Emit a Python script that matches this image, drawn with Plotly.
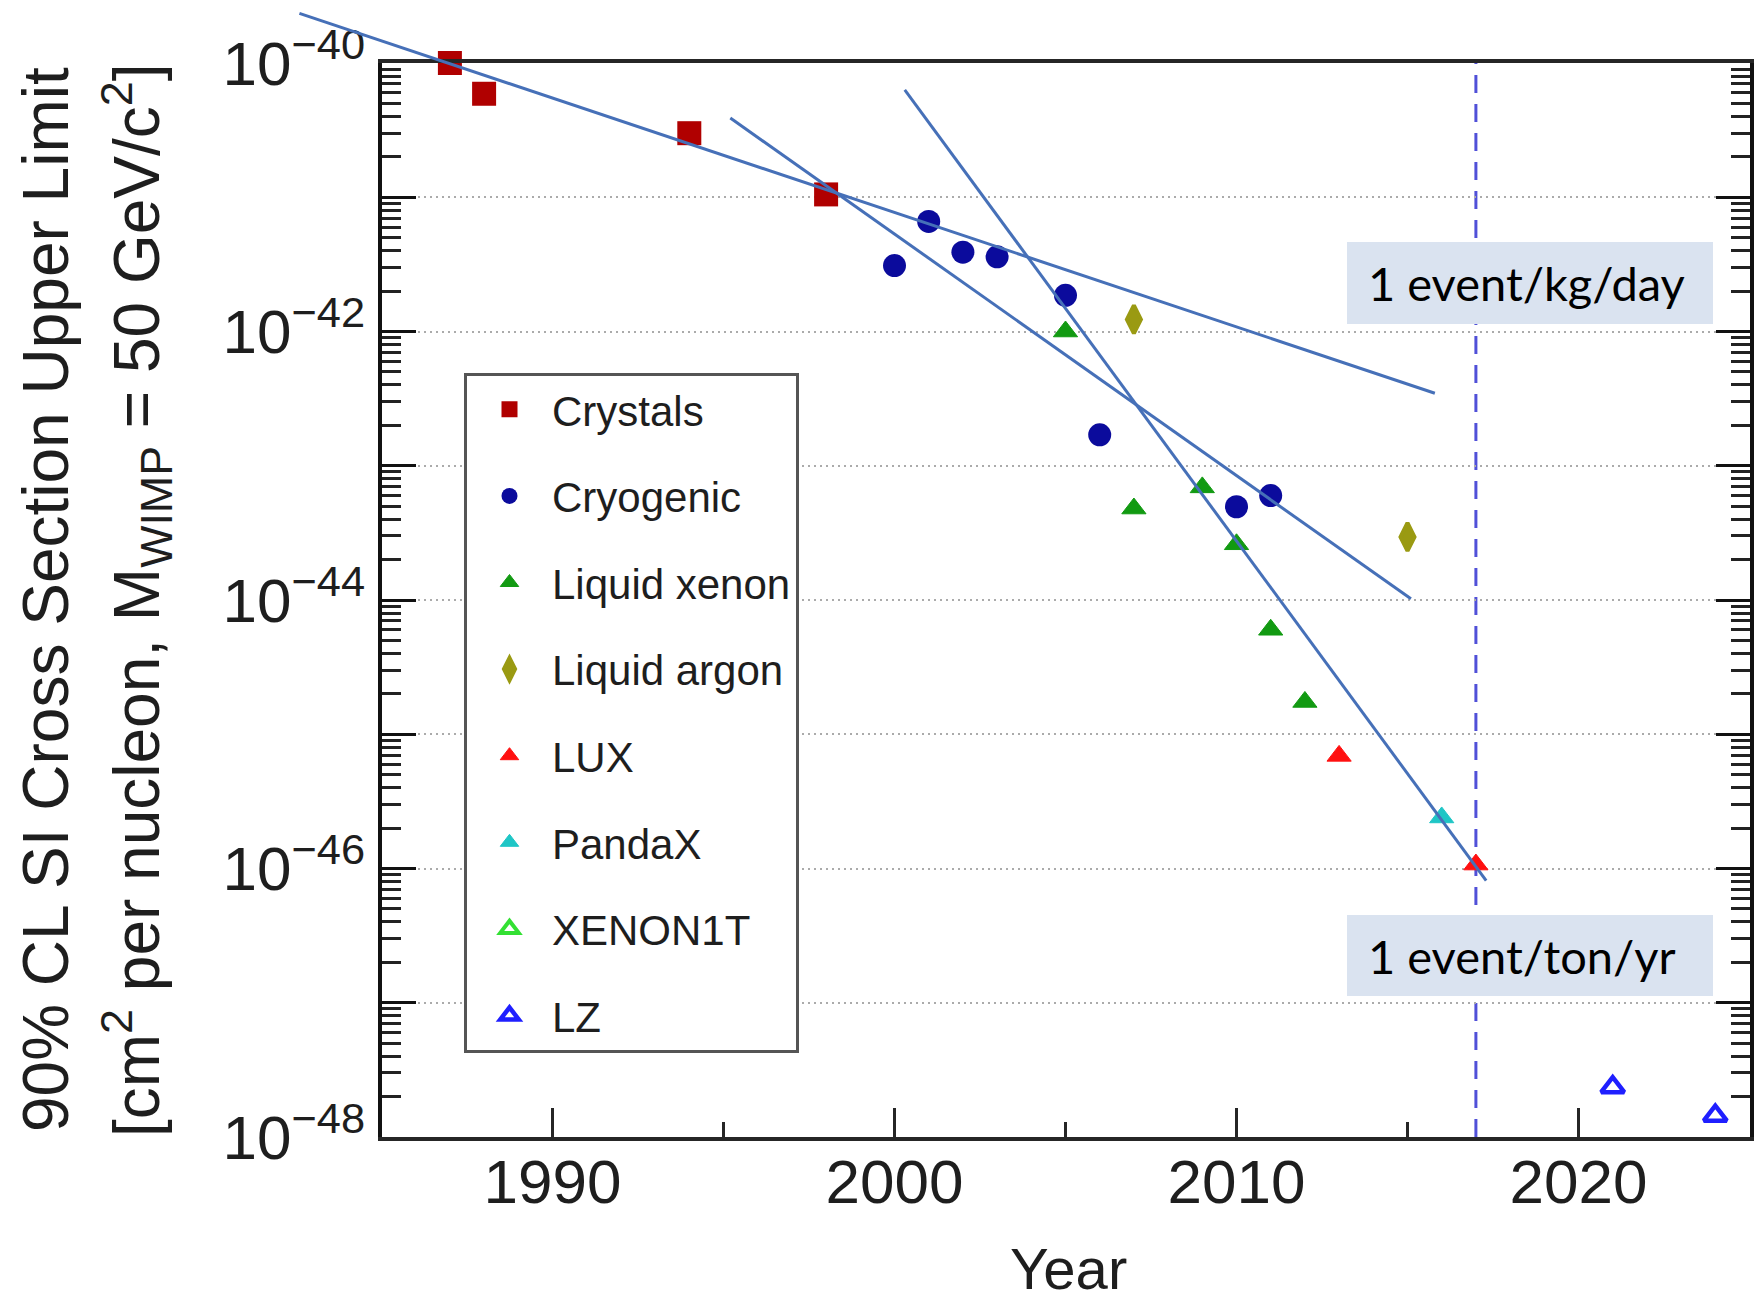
import plotly.graph_objects as go

# ---------------- data ----------------
crystals_year = [1987, 1988, 1994, 1998]
crystals_xs = [1.0e-40, 5.9e-41, 3.0e-41, 1.05e-41]

cryogenic_year = [2000, 2001, 2002, 2003, 2005, 2006, 2010, 2011]
cryogenic_xs = [3.1e-42, 6.6e-42, 3.9e-42, 3.6e-42, 1.86e-42, 1.7e-43, 4.95e-44, 6.0e-44]

lxe_year = [2005, 2007, 2009, 2010, 2011, 2012]
lxe_xs = [1.0e-42, 4.8e-44, 6.9e-44, 2.6e-44, 6.0e-45, 1.74e-45]

lar_year = [2007, 2015]
lar_xs = [1.23e-42, 2.95e-44]

lux_year = [2013, 2017]
lux_xs = [6.9e-46, 1.07e-46]

pandax_year = [2016]
pandax_xs = [2.4e-46]

xenon1t_year = [None]
xenon1t_xs = [None]

lz_year = [2021, 2024]
lz_xs = [2.35e-48, 1.44e-48]

# straight-line trends (start / end of each)
trend_years = [[1982.6, 2015.8], [1995.2, 2015.1], [2000.3, 2017.3]]
trend_xs = [[2.34e-40, 3.47e-43], [3.89e-41, 1.02e-44], [6.31e-41, 8.13e-47]]

# year where the rate drops to 1 event/ton/yr
event_rate_year = 2017

x_range = [1985, 2025]
y_exp_range = [-48, -40]
y_exps = list(range(y_exp_range[0], y_exp_range[1] + 1))

# ---------------- geometry ----------------
W, H = 1754, 1301
plot_left, plot_right = 381.5, 1749.5
plot_top, plot_bottom = 63.0, 1137.0
xd = [plot_left / W, plot_right / W]
yd = [1 - plot_bottom / H, 1 - plot_top / H]

# full-page overlay axes sharing the same scale, so trend lines can run past the frame
ppy = (plot_right - plot_left) / (x_range[1] - x_range[0])
ppd = (plot_bottom - plot_top) / (y_exp_range[1] - y_exp_range[0])
x2_range = [x_range[0] - plot_left / ppy, x_range[1] + (W - plot_right) / ppy]
y2_range = [y_exp_range[0] - (H - plot_bottom) / ppd, y_exp_range[1] + plot_top / ppd]

FONT = "Liberation Sans, Arial, Helvetica, sans-serif"
TXT = "#1e1e1e"

fig = go.Figure()

series = [
    ("Crystals", crystals_year, crystals_xs, "square", "#b00000", 24, 0),
    ("Cryogenic", cryogenic_year, cryogenic_xs, "circle", "#0b0b9c", 23, 0),
    ("Liquid xenon", lxe_year, lxe_xs, "triangle-up", "#129a12", 21, 1),
    ("Liquid argon", lar_year, lar_xs, "diamond-tall", "#9a9a12", 20, 4),
    ("LUX", lux_year, lux_xs, "triangle-up", "#ff1010", 21, 1),
    ("PandaX", pandax_year, pandax_xs, "triangle-up", "#1fc6c6", 21, 1),
    ("XENON1T", xenon1t_year, xenon1t_xs, "triangle-up-open", "#33e033", 20, 4),
    ("LZ", lz_year, lz_xs, "triangle-up-open", "#1f1fff", 20, 4.5),
]

for name, xs, ys, sym, col, size, lw in series:
    fig.add_trace(go.Scatter(
        x=xs, y=ys, name=name, mode="markers", legendgroup=name,
        cliponaxis=False,
        marker=dict(symbol=sym, size=size, color=col,
                    line=dict(color=col, width=lw)),
        xaxis="x", yaxis="y",
    ))

for yrs, vals in zip(trend_years, trend_xs):
    fig.add_trace(go.Scatter(
        x=yrs, y=vals, mode="lines", showlegend=False, hoverinfo="skip",
        line=dict(color="#4670b8", width=3),
        xaxis="x2", yaxis="y2",
    ))

minor_vals = [k * 10.0 ** e for e in y_exps[:-1] for k in range(2, 10)]
tick_vals = [10.0 ** e for e in y_exps]
tick_text = ["10<sup>\u2212%d</sup>" % (-e) if e % 2 == 0 else "" for e in y_exps]

fig.update_layout(
    template="none",
    width=W, height=H,
    margin=dict(l=0, r=0, t=0, b=0, pad=0),
    paper_bgcolor="white",
    plot_bgcolor="rgba(0,0,0,0)",
    font=dict(family=FONT, color=TXT),
    xaxis=dict(
        domain=xd, range=x_range, anchor="y", automargin=False,
        showline=True, linewidth=4, linecolor="#262626", mirror=True,
        tickmode="linear", tick0=1990, dtick=10,
        ticks="inside", ticklen=29, tickwidth=3, tickcolor="#262626",
        minor=dict(tickmode="linear", tick0=1985, dtick=5, ticks="inside",
                   ticklen=15, tickwidth=3, tickcolor="#262626", showgrid=False),
        showgrid=False, zeroline=False,
        tickfont=dict(size=62, color=TXT, family=FONT),
        ticklabelstandoff=-12,
    ),
    yaxis=dict(
        type="log", domain=yd, range=y_exp_range, anchor="x", automargin=False,
        showline=True, linewidth=4, linecolor="#111111", mirror="allticks",
        tickmode="array", tickvals=tick_vals, ticktext=tick_text,
        ticks="inside", ticklen=34, tickwidth=3, tickcolor="#111111",
        minor=dict(tickmode="array", tickvals=minor_vals, ticks="inside",
                   ticklen=19, tickwidth=3, tickcolor="#222222", showgrid=False),
        showgrid=True, gridcolor="#ababab", gridwidth=2, griddash="2px,4px",
        zeroline=False,
        tickfont=dict(size=62, color=TXT, family=FONT),
        ticklabelstandoff=0,
    ),
    xaxis2=dict(domain=[0, 1], range=x2_range, anchor="y2", visible=False,
                fixedrange=True),
    yaxis2=dict(type="log", domain=[0, 1], range=y2_range, anchor="x2",
                visible=False, fixedrange=True),
    legend=dict(
        x=464 / W, y=1 - 372.5 / H, xanchor="left", yanchor="top",
        bgcolor="white", bordercolor="#555555", borderwidth=3,
        font=dict(size=42, family=FONT, color=TXT),
        itemwidth=75, tracegroupgap=29, traceorder="grouped",
        itemsizing="trace", entrywidth=265, entrywidthmode="pixels",
    ),
    showlegend=True,
)

# 1 event/ton/yr reference year
fig.add_shape(type="line", xref="x", yref="y domain",
              x0=event_rate_year, x1=event_rate_year, y0=0, y1=1,
              line=dict(color="#5050d8", width=3, dash="18px,11px"),
              layer="below")

# rate label boxes
boxes = [("1 event/kg/day", 242, 324), ("1 event/ton/yr", 915, 996)]
for text, top, bot in boxes:
    fig.add_shape(type="rect", xref="paper", yref="paper",
                  x0=1347 / W, x1=1713 / W, y0=1 - bot / H, y1=1 - top / H,
                  fillcolor="#dae3f0", line=dict(width=0), layer="above")
    fig.add_annotation(text=text, xref="paper", yref="paper",
                       x=1366 / W, y=1 - (top + bot) / 2 / H,
                       xanchor="left", yanchor="middle", showarrow=False,
                       font=dict(family="Lato, Carlito, sans-serif", size=47,
                                 color="black"))

# axis titles
fig.add_annotation(text="90% CL SI Cross Section Upper Limit",
                   xref="paper", yref="paper", x=46 / W, y=1 - 600 / H,
                   xanchor="center", yanchor="middle", textangle=-90,
                   showarrow=False, font=dict(size=64, family=FONT, color=TXT))
fig.add_annotation(text="[cm<sup>2</sup> per nucleon, M<sub>WIMP</sub> = 50 GeV/c<sup>2</sup>]",
                   xref="paper", yref="paper", x=136 / W, y=1 - 600 / H,
                   xanchor="center", yanchor="middle", textangle=-90,
                   showarrow=False, font=dict(size=64, family=FONT, color=TXT))
fig.add_annotation(text="Year", xref="paper", yref="paper",
                   x=1068 / W, y=1 - 1268 / H, xanchor="center", yanchor="middle",
                   showarrow=False, font=dict(size=58, family=FONT, color=TXT))

fig.write_html("out.html", config={"displayModeBar": False})
